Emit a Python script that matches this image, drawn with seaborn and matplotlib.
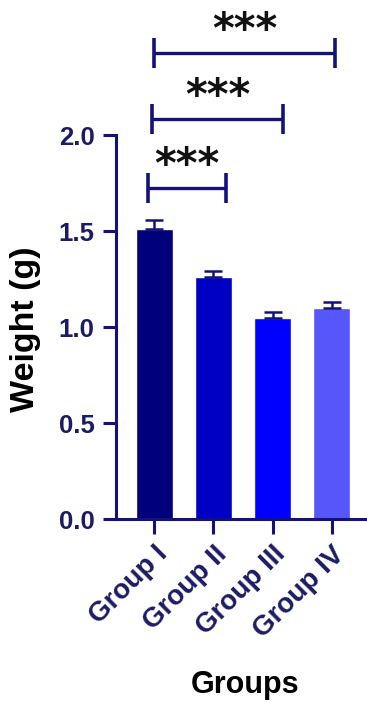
import matplotlib
matplotlib.use("Agg")
import matplotlib.pyplot as plt
import seaborn as sns
import numpy as np
import pandas as pd

# Data
groups = ["Group I", "Group II", "Group III", "Group IV"]
weights = [1.51, 1.26, 1.045, 1.10]
sem = [0.045, 0.03, 0.033, 0.03]
bar_colors = ["#00007c", "#0000c4", "#0000ff", "#5656fa"]

# Significance comparisons: (left x, right x, bracket height, label)
comparisons = [
    (-0.10, 1.21, 1.724, "***"),
    (-0.04, 2.18, 2.083, "***"),
    (0.00, 3.05, 2.427, "***"),
]

navy = "#12127a"
label_navy = "#1b1b66"

sns.set_theme(style="white")
plt.rcParams["font.family"] = ["Liberation Sans", "DejaVu Sans"]

fig = plt.figure(figsize=(3.67, 7.07), dpi=100)
ax = fig.add_axes([0.3161, 0.2659, 0.684, 0.5431])

df = pd.DataFrame({"Group": groups, "Weight": weights})
sns.barplot(data=df, x="Group", y="Weight", hue="Group", palette=bar_colors,
            width=0.63, legend=False, saturation=1, ax=ax, errorbar=None)

xpos = np.arange(len(groups))
ax.errorbar(xpos, weights, yerr=[np.zeros(len(sem)), sem], fmt="none",
            ecolor=navy, elinewidth=1.8, capsize=6.5, capthick=1.8, zorder=3)

ax.set_xlim(-0.65, 3.6)
ax.set_ylim(0, 2.0)
ax.set_yticks([0.0, 0.5, 1.0, 1.5, 2.0])
ax.set_yticklabels(["0.0", "0.5", "1.0", "1.5", "2.0"])

for side in ["top", "right"]:
    ax.spines[side].set_visible(False)
for side in ["left", "bottom"]:
    ax.spines[side].set_color(navy)
    ax.spines[side].set_linewidth(2.2)

ax.tick_params(axis="y", which="major", length=9.5, width=2.2, color=navy,
               left=True, labelsize=18.5, labelcolor=label_navy, pad=6)
ax.tick_params(axis="x", which="major", length=11, width=2.2, color=navy,
               bottom=True, labelsize=20, labelcolor=label_navy, pad=5)
for lbl in ax.get_yticklabels():
    lbl.set_fontweight("bold")
for lbl in ax.get_xticklabels():
    lbl.set_fontweight("bold")
    lbl.set_rotation(45)
    lbl.set_ha("right")
    lbl.set_va("top")
    lbl.set_rotation_mode("anchor")

ax.set_ylabel("Weight (g)", fontsize=24.5, fontweight="bold", color="black",
              va="center", ha="center")
ax.yaxis.set_label_coords(-0.36, 0.495)
ax.set_xlabel("Groups", fontsize=22, fontweight="bold", color="black",
              va="center", ha="center")
ax.xaxis.set_label_coords(0.515, -0.432)

# Significance brackets
for x0, x1, h, txt in comparisons:
    ax.plot([x0, x1], [h, h], color=navy, lw=2.4, clip_on=False, solid_capstyle="butt")
    for xe in (x0, x1):
        ax.plot([xe, xe], [h - 0.08, h + 0.08], color=navy, lw=2.6,
                clip_on=False, solid_capstyle="butt")
    ax.text((x0 + x1) / 2, h + 0.115, txt, ha="center", va="center",
            fontsize=30, fontweight="bold", color="#111111",
            family="DejaVu Sans", clip_on=False)

fig.savefig("out.png", dpi=100, facecolor="white")
